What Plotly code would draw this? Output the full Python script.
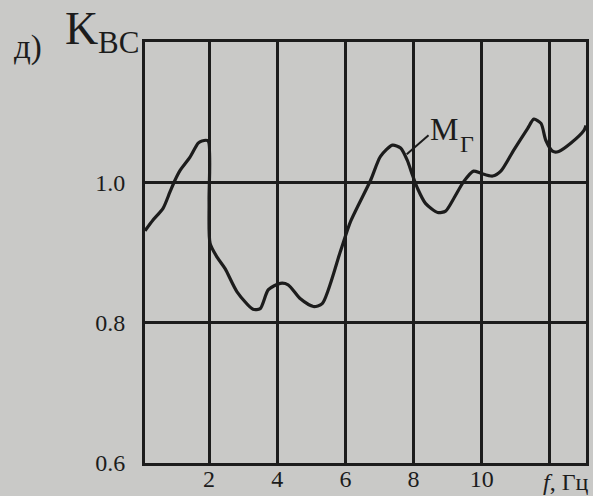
import plotly.graph_objects as go

# Frequency, Hz
freq = [0.12, 0.35, 0.65, 0.85, 1.00, 1.15, 1.44, 1.68, 1.79, 1.97, 2.00, 2.03,
        2.24, 2.47, 2.82, 3.29, 3.50, 3.74, 4.09, 4.32, 4.68, 5.06, 5.32, 5.85,
        6.15, 6.74, 7.03, 7.38, 7.62, 7.82, 7.97, 8.12, 8.35, 8.71, 8.94, 9.18,
        9.47, 9.76, 9.97, 10.32, 10.56, 10.94, 11.35, 11.53, 11.74, 11.88, 12.09,
        12.26, 12.62, 13.00, 13.06]
# K_BC values (curve M_Г)
k_bc = [0.931, 0.946, 0.963, 0.986, 1.003, 1.017, 1.036, 1.056, 1.059, 1.059,
        0.974, 0.913, 0.893, 0.877, 0.844, 0.819, 0.820, 0.847, 0.856, 0.854,
        0.834, 0.823, 0.827, 0.901, 0.944, 1.003, 1.037, 1.053, 1.049, 1.031,
        1.010, 0.991, 0.970, 0.957, 0.959, 0.977, 1.001, 1.016, 1.013, 1.009,
        1.016, 1.046, 1.077, 1.090, 1.084, 1.060, 1.044, 1.044, 1.056, 1.074,
        1.081]

x_ticks = [2, 4, 6, 8, 10, 12]
x_tick_text = ["2", "4", "6", "8", "10", ""]
y_ticks = [0.6, 0.8, 1.0, 1.2]
y_tick_text = ["0.6", "0.8", "1.0", ""]

INK = "#1c1c1c"
PAPER = "#c9c9c7"
SERIF = "Liberation Serif, Times New Roman, serif"

fig = go.Figure()
fig.add_trace(go.Scatter(
    x=freq, y=k_bc, mode="lines",
    line=dict(color=INK, width=3.2, shape="spline", smoothing=0.7),
    showlegend=False, hoverinfo="skip",
))

fig.update_layout(
    width=593, height=496,
    margin=dict(l=145, r=7, t=42, b=33, autoexpand=False),
    paper_bgcolor=PAPER, plot_bgcolor=PAPER,
    font=dict(family=SERIF, size=24, color=INK),
    xaxis=dict(
        range=[0.12, 13.06], tickvals=x_ticks, ticktext=x_tick_text,
        showgrid=True, gridcolor=INK, gridwidth=2.5,
        showline=True, linecolor=INK, linewidth=3, mirror=True,
        zeroline=False, ticks="", ticklabelstandoff=-8, automargin=False,
        tickfont=dict(family=SERIF, size=24, color=INK),
    ),
    yaxis=dict(
        range=[0.6, 1.2], tickvals=y_ticks, ticktext=y_tick_text,
        showgrid=True, gridcolor=INK, gridwidth=2.5,
        showline=True, linecolor=INK, linewidth=3, mirror=True,
        zeroline=False, ticks="", ticklabelstandoff=12, automargin=False,
        tickfont=dict(family=SERIF, size=24, color=INK),
    ),
)

# Leader line to curve label
fig.add_shape(type="line", xref="x", yref="y", x0=8.44, y0=1.067, x1=7.80, y1=1.040,
              line=dict(color=INK, width=2))

annotations = [
    dict(text="M", x=8.88, y=1.076, xref="x", yref="y", font=dict(size=32)),
    dict(text="Г", x=9.56, y=1.055, xref="x", yref="y", font=dict(size=24)),
    dict(text="д)", x=-0.265, y=0.988, xref="paper", yref="paper", font=dict(size=33)),
    dict(text="K", x=-0.143, y=1.033, xref="paper", yref="paper", font=dict(size=46)),
    dict(text="BC", x=-0.061, y=0.999, xref="paper", yref="paper", font=dict(size=31)),
    dict(text="<i>f</i>, Гц", x=0.955, y=-0.046, xref="paper", yref="paper", font=dict(size=24)),
]
for a in annotations:
    a.update(showarrow=False, xanchor="center", yanchor="middle")
    a["font"].update(family=SERIF, color=INK)
    fig.add_annotation(**a)

fig.write_html(
    "out.html",
    config={"displayModeBar": False},
    post_script="document.body.style.margin='0';document.body.style.background='%s';" % PAPER,
)
